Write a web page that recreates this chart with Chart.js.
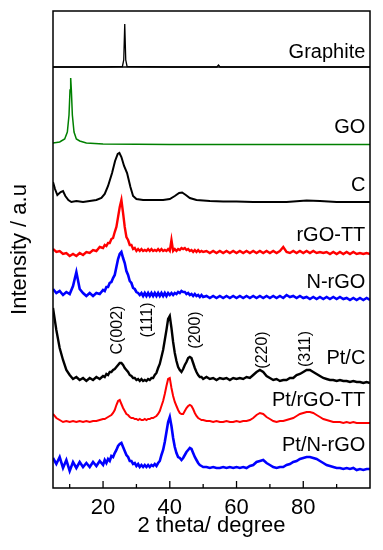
<!DOCTYPE html>
<html>
<head>
<meta charset="utf-8">
<script src="https://cdn.jsdelivr.net/npm/chart.js@4/dist/chart.umd.min.js"></script>
<style>
html,body{margin:0;padding:0;background:#fff;}
#wrap{width:383px;height:550px;}
</style>
</head>
<body>
<div id="wrap"><canvas id="c" width="383" height="550"></canvas></div>
<script>
// ---------- DATA ----------
const seriesNames = ["Graphite","GO","C","rGO-TT","N-rGO","Pt/C","Pt/rGO-TT","Pt/N-rGO"];
const xTickLabels = [20,40,60,80];
const xMinorTicks = [10,30,50,70,90];
const peakLabels = ["C(002)","(111)","(200)","(220)","(311)"];
const peakLabelX = [24.5,33.2,47.6,67.9,80.8];
const peakLabelY = [158,168,158,138,139];
const curveLabelY = [436,361,303,253,206,130,88,43];

const graphiteX = [5,20,25.8,26.2,26.5,26.8,27.2,40,54.1,54.6,55.1,100];
const graphiteY = [421,421,421.5,428,464,428,421.5,421,421,423,421,421];

const goX = [5,7,8.5,9.3,9.8,10.1,10.3,10.5,10.8,11.3,12,13,15,20,40,100];
const goY = [345,346,349,356,373,398,410,398,373,356,349,347,345,344,343.5,343.5];

const cX = [5,5.6,6.3,7.3,8,8.7,9.6,10.5,12,14,16,18,19.5,20.5,21.5,22.7,23.6,24.4,24.9,25.5,26.3,27.2,28.2,29,30,32,35,38,40,41.5,42.8,43.7,44.8,46,48,52,56,60,65,70,75,79,81,85,90,95,100];
const cY = [306,299,293,296,297,292,288,286,287,286,287,288,290,294,302,315,327,334,335,331,322,315,301,292,289,288,288,288,289,292,295,295.5,293,290,288,287,286.5,286.5,286,286,286,287,287.5,287,286,286,286];

const twoTheta = [5,6,7,8,9,10,11,12,13,14,15,16,17,18,19,20,
20.5,21,21.5,22,22.5,23,23.5,24,24.5,25,25.5,26,26.5,27,27.5,28,28.5,29,29.5,30,
30.5,31,31.5,32,32.5,33,33.5,34,34.5,35,35.5,36,36.5,37,37.5,38,38.5,39,39.5,40,
40.5,41,41.5,42,42.5,43,43.5,44,44.5,45,45.5,46,46.5,47,47.5,48,48.5,49,49.5,50,
51,52,53,54,55,56,57,58,59,60,61,62,63,64,65,66,67,68,69,70,
71,72,73,74,75,76,77,78,79,80,81,82,83,84,85,86,87,88,89,90,
91,92,93,94,95,96,97,98,99,100];

const rgoTT = [239,236,237,234,235,232,234,232,235,233,236,235,238,237,241,240,
243,242,245,245,249,250,256,261,271,281,288,275,261,251,248,243,243,239,240,237,
239,237,239,237,238,237,239,237,239,237,238,237,239,237,239,237,238,237,239,237,
248,237,239,237,239,238,240,239,240,238,239,237,238,236,238,236,238,236,237,236,
237,235,237,235,237,235,237,235,237,235,237,235,237,235,237,235,237,235,237,235,
237,235,237,241,236,235,237,235,237,235,237,235,237,235,236,235,236,234,236,234,
236,234,236,234,236,234,235,234,235,234];

const nrGO = [199,195,197,193,196,194,202,216,199,195,192,195,192,195,194,198,
197,201,201,205,206,210,213,221,229,234,236,230,225,217,213,207,205,200,199,196,
195,193,195,192,195,192,195,192,195,192,195,192,195,192,195,192,195,192,195,193,
195,193,195,194,196,195,197,196,196,194,195,193,194,192,194,192,193,191,193,191,
192,190,192,190,192,190,192,190,192,190,192,190,192,190,192,190,192,190,192,190,
192,190,192,190,193,191,192,190,192,190,191,189,191,189,191,189,191,189,191,189,
191,189,190,188,190,188,190,188,190,188];

const ptC = [180,158,140,128,118,113,109,111,108,110,107,110,108,111,109,112,
111,114,113,116,116,118,119,121,123,125,125,123,120,118,116,113,112,110,110,108,
109,107,109,107,108,107,109,108,110,110,113,115,120,124,131,138,148,158,169,172,
160,146,135,127,121,118,116,119,123,126,130,131,130,125,120,116,113,111,111,109,
111,109,110,108,110,109,110,108,110,109,110,109,111,110,113,116,118,116,112,110,
108,109,107,108,108,110,110,113,114,116,118,118,116,114,112,110,109,108,108,107,
108,107,107,106,107,106,106,105,106,105];

const ptRgoTT = [74,70,68,66,67,66,67,66,67,66,67,66,67,67,68,69,
69,70,71,72,73,75,78,83,87,88,84,80,77,74,73,71,70,70,69,69,
68,69,68,68,69,68,69,69,70,70,71,72,74,77,82,87,94,102,109,110,
100,92,86,82,78,75,74,74,77,80,82,83,82,79,75,72,70,69,68,68,
67,67,66,67,66,66,67,66,66,67,66,67,67,68,70,73,75,74,71,69,
67,66,67,67,68,69,70,72,74,75,76,76,75,73,71,69,68,67,66,66,
66,65,66,65,66,65,65,65,65,65];

const ptNrGO = [30,24,31,20,28,17,26,20,26,21,25,21,26,22,27,23,
28,25,29,27,32,31,35,38,42,44,45,41,37,33,31,27,27,24,25,22,
24,21,23,21,23,21,23,21,23,22,24,22,25,27,33,38,46,56,66,71,
62,50,41,35,31,30,28,30,33,36,38,40,39,35,31,28,25,23,22,21,
21,20,21,20,20,21,20,21,20,21,20,21,20,22,23,26,27,28,25,23,
21,20,21,21,23,24,26,27,29,30,31,31,30,29,27,25,23,22,21,20,
20,19,20,19,20,18,19,18,19,19];

// ---------- CHART ----------
const FONT = '"Liberation Sans", Arial, sans-serif';
const pair = (xs, ys) => xs.map((v, i) => ({x: v, y: ys[i]}));
const seriesData = [
  pair(graphiteX, graphiteY), pair(goX, goY), pair(cX, cY),
  pair(twoTheta, rgoTT), pair(twoTheta, nrGO), pair(twoTheta, ptC),
  pair(twoTheta, ptRgoTT), pair(twoTheta, ptNrGO)
];
const colors = ['#000000','#008000','#000000','#ff0000','#0000ff','#000000','#ff0000','#0000ff'];
const widths = [1.3,1.5,2,2.4,2.6,2.4,2,2.6];
const PANEL_DIVIDER = 421;
const LABEL_X = 98.6;

const overlay = {
  id: 'overlay',
  afterDatasetsDraw(chart) {
    const {ctx, chartArea: a, scales: {x, y}} = chart;
    ctx.save();
    ctx.strokeStyle = '#000';
    ctx.lineWidth = 1.5;
    ctx.strokeRect(a.left, a.top, a.right - a.left, a.bottom - a.top);
    const yd = y.getPixelForValue(PANEL_DIVIDER);
    ctx.beginPath(); ctx.moveTo(a.left, yd); ctx.lineTo(a.right, yd); ctx.stroke();
    ctx.lineWidth = 1.3;
    xTickLabels.forEach(v => {
      const px = x.getPixelForValue(v);
      ctx.beginPath(); ctx.moveTo(px, a.bottom); ctx.lineTo(px, a.bottom - 7); ctx.stroke();
    });
    xMinorTicks.forEach(v => {
      const px = x.getPixelForValue(v);
      ctx.beginPath(); ctx.moveTo(px, a.bottom); ctx.lineTo(px, a.bottom - 4); ctx.stroke();
    });
    ctx.fillStyle = '#000';
    ctx.font = '20px ' + FONT;
    ctx.textAlign = 'right';
    ctx.textBaseline = 'middle';
    seriesNames.forEach((n, i) => {
      ctx.fillText(n, x.getPixelForValue(LABEL_X), y.getPixelForValue(curveLabelY[i]));
    });
    ctx.font = '16px ' + FONT;
    ctx.textAlign = 'center';
    peakLabels.forEach((t, i) => {
      ctx.save();
      ctx.translate(x.getPixelForValue(peakLabelX[i]), y.getPixelForValue(peakLabelY[i]));
      ctx.rotate(-Math.PI / 2);
      ctx.fillText(t, 0, 0);
      ctx.restore();
    });
    ctx.restore();
  }
};

new Chart(document.getElementById('c'), {
  type: 'line',
  data: {
    datasets: seriesData.map((d, i) => ({
      label: seriesNames[i],
      data: d,
      borderColor: colors[i],
      borderWidth: widths[i],
      pointRadius: 0,
      tension: 0,
      fill: false
    }))
  },
  options: {
    responsive: false,
    animation: false,
    devicePixelRatio: 1,
    layout: {padding: {left: 0, right: 13, top: 11, bottom: 0}},
    plugins: {legend: {display: false}, tooltip: {enabled: false}},
    scales: {
      x: {
        type: 'linear', min: 5, max: 100,
        afterBuildTicks: s => { s.ticks = [10,20,30,40,50,60,70,80,90].map(v => ({value: v})); },
        afterFit: s => { s.height = 62; },
        grid: {display: false, drawTicks: false},
        border: {display: false},
        ticks: {
          autoSkip: false, maxRotation: 0, padding: 7, color: '#000',
          font: {family: FONT, size: 22},
          callback: v => (xTickLabels.includes(v) ? String(v) : '')
        },
        title: {display: true, text: '2 theta/ degree', color: '#000',
          font: {family: FONT, size: 22}, padding: {top: 0, bottom: 11}}
      },
      y: {
        type: 'linear', min: 0, max: 477,
        afterFit: s => { s.width = 53; },
        grid: {display: false, drawTicks: false},
        border: {display: false},
        ticks: {display: false},
        title: {display: true, text: 'Intensity / a.u', color: '#000',
          font: {family: FONT, size: 22}, padding: {top: 7, bottom: 0}}
      }
    }
  },
  plugins: [overlay]
});
</script>
</body>
</html>
